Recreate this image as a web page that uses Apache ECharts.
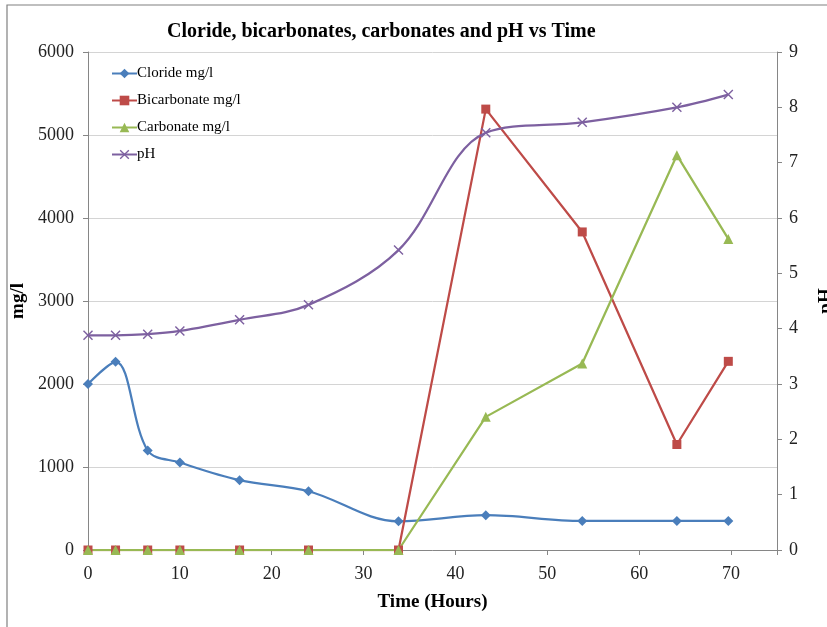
<!DOCTYPE html>
<html>
<head>
<meta charset="utf-8">
<script src="https://cdn.jsdelivr.net/npm/echarts@6/dist/echarts.min.js"></script>
<style>
html, body { margin: 0; padding: 0; background: #fff; }
#chart { width: 827px; height: 627px; }
</style>
</head>
<body>
<div id="chart"></div>
<script>
var hours = [0, 3, 6.5, 10, 16.5, 24, 33.8, 43.3, 53.8, 64.1, 69.7];
var cloride = [2000, 2268, 1199, 1054, 841, 708, 346, 419, 350, 350, 350];
var bicarbonate = [0, 0, 0, 0, 0, 0, 0, 5312, 3832, 1271, 2273];
var carbonate = [0, 0, 0, 0, 0, 0, 0, 1604, 2248, 4757, 3748];
var ph = [3.88, 3.88, 3.90, 3.96, 4.16, 4.43, 5.42, 7.54, 7.73, 8.00, 8.23];

var serif = "'Liberation Serif', 'Times New Roman', serif";

function pairs(vals) {
  return hours.map(function (h, i) { return [h, vals[i]]; });
}

var crossSymbol = 'path://M0,1L1,0L5,4L9,0L10,1L6,5L10,9L9,10L5,6L1,10L0,9L4,5Z';

var chart = echarts.init(document.getElementById('chart'), null, {renderer: 'canvas'});
var option = {
  animation: false,
  backgroundColor: '#fff',
  color: ['#4a7ebb', '#be4b48', '#98b954', '#7d60a0'],
  title: {
    text: 'Cloride, bicarbonates, carbonates and pH vs Time',
    left: 162,
    top: 17,
    textStyle: {fontFamily: serif, fontSize: 20, fontWeight: 'bold', color: '#000'}
  },
  legend: {
    orient: 'vertical',
    left: 106,
    top: 61,
    itemWidth: 25,
    itemHeight: 12,
    itemGap: 12,
    textStyle: {fontFamily: serif, fontSize: 15, color: '#000', padding: [0, 0, 0, -5]},
    data: ['Cloride mg/l', 'Bicarbonate mg/l', 'Carbonate mg/l', 'pH']
  },
  graphic: [{
    type: 'rect',
    shape: {x: 7, y: 5, width: 840, height: 640},
    style: {fill: 'none', stroke: '#808080', lineWidth: 1.2},
    silent: true
  }],
  grid: {left: 88, right: 50, top: 52, bottom: 77, outerBoundsMode: 'none', containLabel: false},
  xAxis: {
    type: 'value',
    min: 0,
    max: 75,
    interval: 10,
    name: 'Time (Hours)',
    nameLocation: 'middle',
    nameGap: 43,
    nameTextStyle: {fontFamily: serif, fontSize: 19, fontWeight: 'bold', color: '#000'},
    axisLine: {onZero: false, lineStyle: {color: '#868686', width: 1}},
    axisTick: {show: true, length: 5, lineStyle: {color: '#868686'}},
    axisLabel: {
      fontFamily: serif, fontSize: 18, color: '#222', margin: 15,
      formatter: function (v) { return v > 70 ? '' : String(v); }
    },
    splitLine: {show: false}
  },
  yAxis: [{
    type: 'value',
    min: 0,
    max: 6000,
    interval: 1000,
    name: 'mg/l',
    nameLocation: 'middle',
    nameRotate: 90,
    nameGap: 54,
    nameTextStyle: {fontFamily: serif, fontSize: 19, fontWeight: 'bold', color: '#000'},
    axisLine: {show: true, lineStyle: {color: '#868686', width: 1}},
    axisTick: {show: true, length: 5, lineStyle: {color: '#868686'}},
    axisLabel: {
      fontFamily: serif, fontSize: 18, color: '#222', margin: 14,
      formatter: function (v) { return String(v); }
    },
    splitLine: {show: true, lineStyle: {color: '#d4d4d4', width: 1}}
  }, {
    type: 'value',
    min: 0,
    max: 9,
    interval: 1,
    position: 'right',
    name: 'pH',
    nameLocation: 'middle',
    nameRotate: 90,
    nameGap: 40,
    nameTextStyle: {fontFamily: serif, fontSize: 19, fontWeight: 'bold', color: '#000'},
    axisLine: {show: true, lineStyle: {color: '#868686', width: 1}},
    axisTick: {show: true, length: 5, lineStyle: {color: '#868686'}},
    axisLabel: {fontFamily: serif, fontSize: 18, color: '#222', margin: 12},
    splitLine: {show: false}
  }],
  series: [{
    name: 'Cloride mg/l',
    type: 'line',
    smooth: 0.35,
    data: pairs(cloride),
    symbol: 'diamond',
    symbolSize: 10,
    lineStyle: {width: 2.25}
  }, {
    name: 'Bicarbonate mg/l',
    type: 'line',
    data: pairs(bicarbonate),
    symbol: 'rect',
    symbolSize: 9,
    lineStyle: {width: 2.25}
  }, {
    name: 'Carbonate mg/l',
    type: 'line',
    data: pairs(carbonate),
    symbol: 'triangle',
    symbolSize: 10,
    lineStyle: {width: 2.25}
  }, {
    name: 'pH',
    type: 'line',
    yAxisIndex: 1,
    smooth: 0.35,
    data: pairs(ph),
    symbol: crossSymbol,
    symbolSize: 10,
    lineStyle: {width: 2.25}
  }]
};
chart.setOption(option);
</script>
</body>
</html>
